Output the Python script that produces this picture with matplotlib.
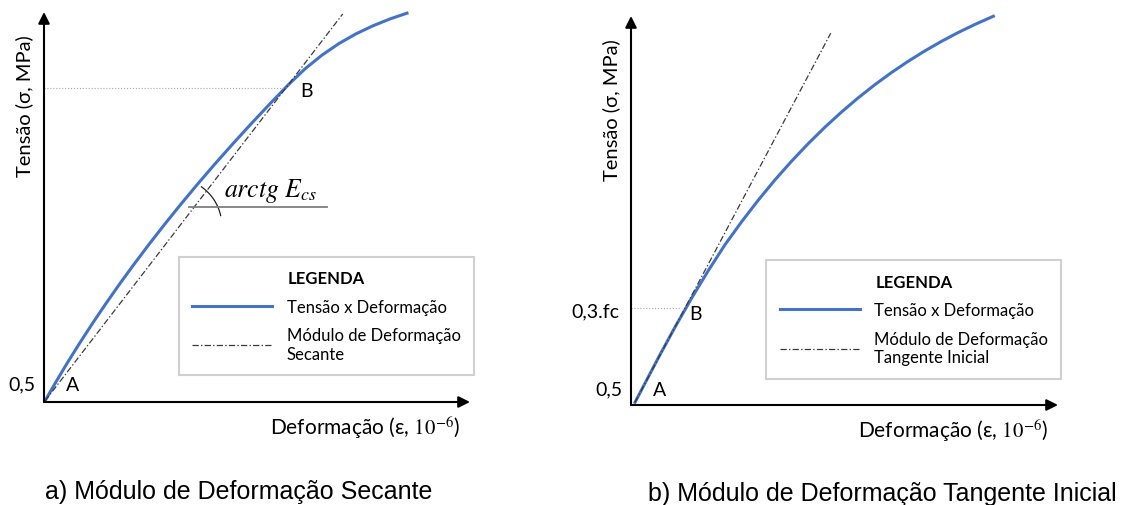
import matplotlib
matplotlib.use("Agg")
import matplotlib.pyplot as plt
from matplotlib.patches import Arc

plt.rcParams['font.family'] = ['Lato', 'DejaVu Sans']
plt.rcParams['mathtext.fontset'] = 'stix'

# Curva tensão x deformação (valores normalizados, 0-100)
eps_a = [0.23, 2.52, 5.31, 8.24, 11.29, 14.46, 17.75, 21.17, 24.71, 28.38, 32.17,
         36.08, 40.12, 44.29, 48.58, 52.99, 57.30, 61.27, 65.26, 69.25, 73.24,
         77.23, 81.22, 85.21]
sig_a = [0.26, 4.62, 9.74, 14.87, 20.00, 25.13, 30.26, 35.38, 40.51, 45.64, 50.77,
         55.90, 61.03, 66.15, 71.28, 76.41, 81.28, 85.42, 88.95, 91.92, 94.40,
         96.47, 98.22, 99.70]
eps_b = [0.94, 6.40, 10.30, 14.21, 18.11, 22.01, 25.92, 29.82, 33.72, 37.63, 41.53,
         45.43, 49.34, 53.24, 57.14, 61.05, 64.95, 68.85, 72.76, 76.66, 80.56, 84.86]
sig_b = [0.69, 12.14, 20.00, 27.50, 34.57, 41.21, 47.13, 52.68, 57.87, 62.71, 67.22,
         71.43, 75.35, 78.99, 82.37, 85.50, 88.39, 91.05, 93.51, 95.77, 97.84, 99.94]

# Reta secante (A -> B) e reta tangente inicial
secant_eps = [0.23, 70.13]
secant_sig = [0.26, 99.5]
tangent_eps = [0.94, 46.79]
tangent_sig = [0.69, 95.6]

# Pontos A e B (posição do ponto e do rótulo)
point_b = {'a': (57.3, 80.5), 'b': (12.6, 24.9)}
label_a = {'a': (6.8, 4.6), 'b': (6.8, 4.1)}
label_b = {'a': (61.7, 79.9), 'b': (15.1, 23.6)}

y_ticks_b = ['0,5', '0,3.fc']

legend_labels_a = ['Tensão x Deformação', 'Módulo de Deformação\nSecante']
legend_labels_b = ['Tensão x Deformação', 'Módulo de Deformação\nTangente Inicial']

captions = ['a) Módulo de Deformação Secante',
            'b) Módulo de Deformação Tangente Inicial']

BLUE = '#4472C4'
DASH = '#3a3a3a'

fig = plt.figure(figsize=(11.25, 5.06), dpi=100)
ax1 = fig.add_axes([44 / 1125, 103 / 506, 426 / 1125, 390 / 506])
ax2 = fig.add_axes([631 / 1125, 100 / 506, 427 / 1125, 389 / 506])


def draw_panel(ax, eps, sig, line_eps, line_sig, pb, la, lb, labels, caption, cap_x):
    ax.set_xlim(0, 100)
    ax.set_ylim(0, 100)
    ax.axis('off')

    arrow = dict(arrowstyle='-|>', lw=1.5, color='black', shrinkA=0, shrinkB=0,
                 mutation_scale=17)
    ax.annotate('', xy=(100, 0), xytext=(0, 0), arrowprops=arrow, annotation_clip=False)
    ax.annotate('', xy=(0, 100), xytext=(0, 0), arrowprops=arrow, annotation_clip=False)

    curve, = ax.plot(eps, sig, color=BLUE, lw=2.2, clip_on=False,
                     solid_joinstyle='round')
    modulus, = ax.plot(line_eps, line_sig, color=DASH, lw=0.9,
                       dashes=(5, 1.8, 1.1, 1.8), clip_on=False)
    ax.plot([0, pb[0] - 1.2], [pb[1], pb[1]], color='#a6a6a6', lw=0.8, ls=':')

    ax.text(la[0], la[1], 'A', fontsize=14, ha='center', va='center')
    ax.text(lb[0], lb[1], 'B', fontsize=14, ha='center', va='center')
    ax.text(-1.9, la[1], '0,5', fontsize=14, ha='right', va='center')

    ax.text(-4.6, 76, 'Tensão (σ, MPa)', fontsize=14.5, rotation=90,
            ha='center', va='center')
    ax.text(97.7, -6.4, 'Deformação (ε, $10^{-6}$)', fontsize=15,
            ha='right', va='center')

    leg = ax.legend([curve, modulus], labels, title='LEGENDA',
                    loc='upper left', bbox_to_anchor=(0.317, 0.372),
                    bbox_transform=ax.transAxes, borderaxespad=0,
                    fontsize=12, title_fontproperties={'weight': 'bold', 'size': 12},
                    handlelength=4.8, handletextpad=0.85, labelspacing=0.75,
                    borderpad=0.8, fancybox=False, framealpha=1,
                    edgecolor='#d0d0d0')
    leg.get_frame().set_linewidth(1.5)

    ax.text(cap_x, -22.7, caption, fontsize=18, family='Liberation Sans',
            ha='left', va='center')
    return leg


draw_panel(ax1, eps_a, sig_a, secant_eps, secant_sig, point_b['a'], label_a['a'],
           label_b['a'], legend_labels_a, captions[0], 0.2)
draw_panel(ax2, eps_b, sig_b, tangent_eps, tangent_sig, point_b['b'], label_a['b'],
           label_b['b'], legend_labels_b, captions[1], 4.0)

ax2.text(-2.8, point_b['b'][1] - 0.6, y_ticks_b[1], fontsize=14, ha='right', va='center')

# Ângulo da secante
ax1.plot([34.0, 66.4], [50.0, 50.0], color='#7f7f7f', lw=1.3)
ax1.add_patch(Arc((30.5, 45.1), 22.5, 24.6, theta1=13, theta2=58,
                  color='#222222', lw=0.9))
ax1.text(42.3, 54.4, r'$arctg\ E_{cs}$', fontsize=18.5, ha='left', va='center')

fig.savefig('out.png', dpi=100)
